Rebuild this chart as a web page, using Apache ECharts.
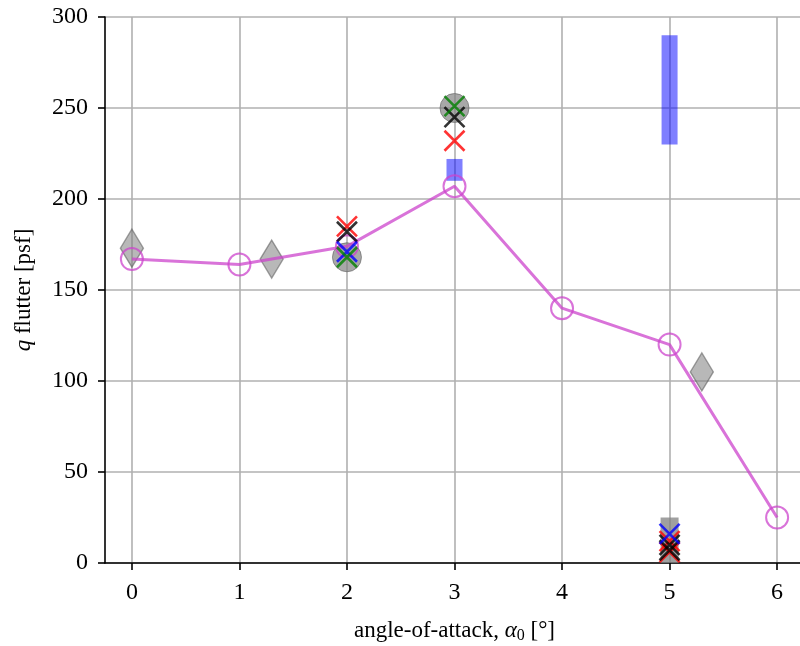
<!DOCTYPE html>
<html><head><meta charset="utf-8">
<script src="https://cdn.jsdelivr.net/npm/echarts@6/dist/echarts.min.js"></script>
<style>html,body{margin:0;padding:0;background:#fff}#c{width:800px;height:646px}</style>
</head><body><div id="c"></div>
<script>
// ---- data ----
const xTicks = [0, 1, 2, 3, 4, 5, 6];
const yTicks = [0, 50, 100, 150, 200, 250, 300];
const lineAoA = [0, 1, 2, 3, 4, 5, 6];
const lineQ = [167, 164, 174, 207, 140, 120, 25];
const diamondAoA = [0, 1.3, 5.3];
const diamondQ = [173, 167, 105];
const grayCircleAoA = [2, 3];
const grayCircleQ = [168, 250];
const grayBarAoA = [5];
const grayBarLow = [0];
const grayBarHigh = [25];
const blueBarAoA = [3, 5];
const blueBarLow = [210, 230];
const blueBarHigh = [222, 290];
const redXAoA = [2, 3, 5, 5];
const redXQ = [185, 232, 12, 6];
const blackXAoA = [2, 3, 5, 5];
const blackXQ = [182, 245, 10, 7];
const blueXAoA = [2, 5];
const blueXQ = [171, 16];
const greenXAoA = [2, 3];
const greenXQ = [168, 251];

const zip = (a, b) => a.map((v, i) => [v, b[i]]);
const FONT = 'Liberation Serif';
const XPATH = 'path://M0,0 L10,10 M10,0 L0,10';
const DIAMOND = 'path://M6,0 L12,10 L6,20 L0,10 Z';

function barSeries(aoa, low, high, color, width) {
  return aoa.map((x, i) => ({
    type: 'line', data: [[x, low[i]], [x, high[i]]], showSymbol: false, symbol: 'none',
    lineStyle: { color: color, width: width, cap: 'butt' }, z: 2, silent: true, clip: true
  }));
}
function xSeries(aoa, q, color, z) {
  return {
    type: 'scatter', data: zip(aoa, q), symbol: XPATH, symbolSize: 20, z: z,
    itemStyle: { color: 'rgba(0,0,0,0)', borderColor: color, borderWidth: 2.6 }
  };
}

const series = [
  ...barSeries(grayBarAoA, grayBarLow, grayBarHigh, 'rgba(128,128,128,0.75)', 18),
  {
    type: 'scatter', data: zip(diamondAoA, diamondQ), symbol: DIAMOND, symbolSize: [23, 38], z: 2,
    itemStyle: { color: 'rgba(128,128,128,0.7)', borderColor: 'rgba(90,90,90,0.7)', borderWidth: 1.5 }
  },
  {
    type: 'scatter', data: zip(grayCircleAoA, grayCircleQ), symbol: 'circle', symbolSize: 29, z: 2,
    itemStyle: { color: 'rgba(128,128,128,0.85)', borderColor: 'rgba(100,100,100,0.8)', borderWidth: 1 }
  },
  ...barSeries(blueBarAoA, blueBarLow, blueBarHigh, 'rgba(0,0,255,0.5)', 16),
  {
    type: 'line', data: zip(lineAoA, lineQ), symbol: 'circle', symbolSize: 22, showSymbol: true, z: 3,
    lineStyle: { color: 'rgba(204,68,204,0.75)', width: 3 },
    itemStyle: { color: 'rgba(0,0,0,0)', borderColor: 'rgba(204,68,204,0.75)', borderWidth: 2 }
  },
  xSeries(redXAoA, redXQ, '#ff0000', 4),
  xSeries(blackXAoA, blackXQ, '#000000', 5),
  xSeries(blueXAoA, blueXQ, '#0000ff', 6),
  xSeries(greenXAoA, greenXQ, '#008000', 7)
];

const chart = echarts.init(document.getElementById('c'), null, { renderer: 'canvas' });
chart.setOption({
  animation: false,
  backgroundColor: '#fff',
  grid: { left: 105, top: 17, width: 699, height: 546, containLabel: false, outerBoundsMode: 'none' },
  xAxis: {
    type: 'value', min: -0.25, max: 6.25,
    name: 'angle-of-attack, {i|α}{sub|0} [°]', nameLocation: 'middle', nameGap: 55,
    nameTextStyle: {
      fontFamily: FONT, fontSize: 23, color: '#000',
      rich: {
        i: { fontFamily: FONT, fontSize: 23, fontStyle: 'italic', color: '#000' },
        sub: { fontFamily: FONT, fontSize: 16, color: '#000', padding: [10, 0, 0, 0] }
      }
    },
    axisLine: { onZero: false, lineStyle: { color: '#000', width: 1.6 } },
    axisTick: { show: true, length: 7, inside: false, customValues: xTicks, lineStyle: { color: '#000', width: 1.6 } },
    axisLabel: { customValues: xTicks, fontFamily: FONT, fontSize: 24, color: '#000', margin: 18 },
    splitLine: { show: true, customValues: xTicks, lineStyle: { color: '#b0b0b0', width: 1.6 } }
  },
  yAxis: {
    type: 'value', min: 0, max: 300, interval: 50,
    name: '{i|q} flutter [psf]', nameLocation: 'middle', nameGap: 70, nameRotate: 90,
    nameTextStyle: {
      fontFamily: FONT, fontSize: 23, color: '#000',
      rich: { i: { fontFamily: FONT, fontSize: 23, fontStyle: 'italic', color: '#000' } }
    },
    axisLine: { show: true, onZero: false, lineStyle: { color: '#000', width: 1.6 } },
    axisTick: { show: true, length: 7, lineStyle: { color: '#000', width: 1.6 } },
    axisLabel: { fontFamily: FONT, fontSize: 24, color: '#000', margin: 17 },
    splitLine: { show: true, lineStyle: { color: '#b0b0b0', width: 1.6 } }
  },
  series: series
});
</script></body></html>
